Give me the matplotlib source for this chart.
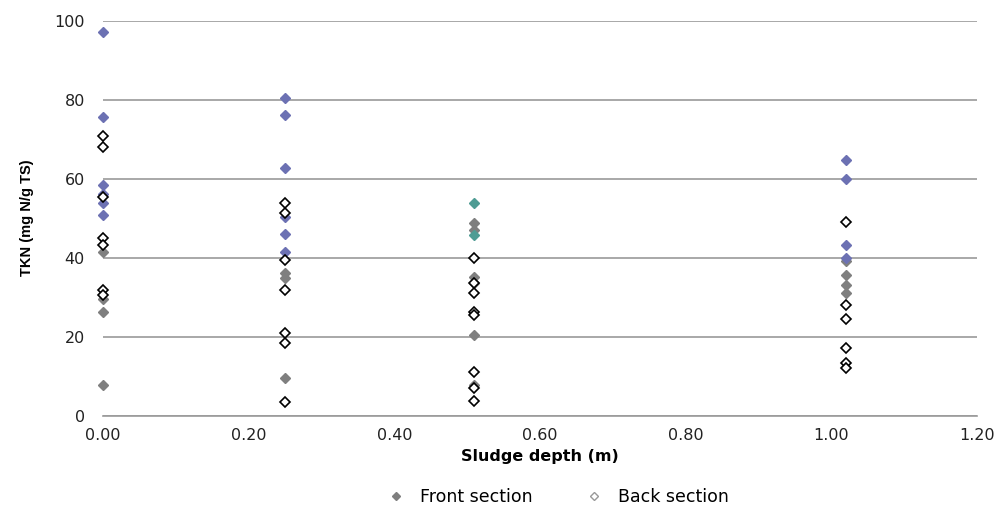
import matplotlib
matplotlib.use("Agg")
import matplotlib.pyplot as plt
from matplotlib.lines import Line2D

plt.rcParams['font.family'] = ['DejaVu Sans']

# Sludge depths (m)
depths = [0.0, 0.25, 0.51, 1.02]

# Front section, blue markers
front_blue = {
    0.0: [97.2, 75.5, 58.4, 56.1, 53.8, 50.8],
    0.25: [80.3, 76.1, 62.6, 50.3, 45.9, 41.5],
    0.51: [],
    1.02: [64.7, 59.9, 43.2, 39.8],
}
# Front section, teal markers
front_teal = {
    0.0: [],
    0.25: [],
    0.51: [53.7, 45.7],
    1.02: [],
}
# Front section, grey markers
front_grey = {
    0.0: [41.5, 29.5, 26.3, 7.7],
    0.25: [36.0, 34.7, 9.4],
    0.51: [48.7, 47.0, 35.1, 33.5, 20.4, 7.7],
    1.02: [39.0, 35.6, 33.0, 30.9],
}
# Back section, open markers
back = {
    0.0: [70.8, 68.1, 55.4, 44.9, 43.2, 31.8, 30.5],
    0.25: [53.7, 51.3, 39.4, 31.8, 20.8, 18.3, 3.5],
    0.51: [40.0, 33.5, 30.9, 26.3, 25.5, 11.1, 6.9, 3.8],
    1.02: [49.1, 28.0, 24.4, 17.0, 13.2, 12.0],
}

xticks = [0.0, 0.2, 0.4, 0.6, 0.8, 1.0, 1.2]
yticks = [0, 20, 40, 60, 80, 100]

fig = plt.figure(figsize=(10.04, 5.08), dpi=100)
ax = fig.add_axes([0.1026, 0.182, 0.8705, 0.7776])

def pts(d):
    xs, ys = [], []
    for k in depths:
        for v in d.get(k, []):
            xs.append(k)
            ys.append(v)
    return xs, ys

ms = 5.3
x, y = pts(front_grey)
ax.plot(x, y, 'D', ms=ms, color='#7f7f7f', mec='#7f7f7f', ls='none', clip_on=False, zorder=3)
x, y = pts(front_blue)
ax.plot(x, y, 'D', ms=ms, color='#6c71b3', mec='#6c71b3', ls='none', clip_on=False, zorder=3)
x, y = pts(front_teal)
ax.plot(x, y, 'D', ms=ms, color='#4f9c94', mec='#4f9c94', ls='none', clip_on=False, zorder=3)
x, y = pts(back)
ax.plot(x, y, 'D', ms=ms, mfc='white', mec='black', mew=1.2, ls='none', clip_on=False, zorder=4)

ax.set_xlim(0, 1.2)
ax.set_ylim(0, 100)
ax.set_xticks(xticks)
ax.set_xticklabels([f"{t:.2f}" for t in xticks], fontsize=11.5, color='#222222')
ax.set_yticks(yticks)
ax.set_yticklabels([str(t) for t in yticks], fontsize=11.5, color='#222222')
ax.tick_params(length=0)
ax.tick_params(axis='x', pad=9)
ax.tick_params(axis='y', pad=13)
ax.yaxis.grid(True, color='#9a9a9a', lw=1.2)
ax.set_axisbelow(True)
for s in ['top', 'right', 'left']:
    ax.spines[s].set_visible(False)
ax.spines['bottom'].set_color('#9a9a9a')
ax.spines['bottom'].set_linewidth(1.2)

ax.set_xlabel('Sludge depth (m)', fontsize=11.5, fontweight='bold', labelpad=4)
ax.set_ylabel('TKN (mg N/g TS)', fontsize=10.5, fontweight='bold',
              family=['Liberation Sans Narrow', 'Liberation Sans', 'DejaVu Sans'])
ax.yaxis.set_label_coords(-0.079, 0.5)

handles = [
    Line2D([], [], marker='D', ls='none', ms=4.5, color='#7f7f7f', label='Front section'),
    Line2D([], [], marker='D', ls='none', ms=4.5, mfc='white', mec='#999999', label='Back section'),
]
fig.legend(handles=handles, loc='center', bbox_to_anchor=(0.555, 0.022), ncol=2,
           frameon=False, fontsize=12.5, columnspacing=2.9, handletextpad=0.8,
           handlelength=1.2)

fig.savefig('out.png', dpi=100)
